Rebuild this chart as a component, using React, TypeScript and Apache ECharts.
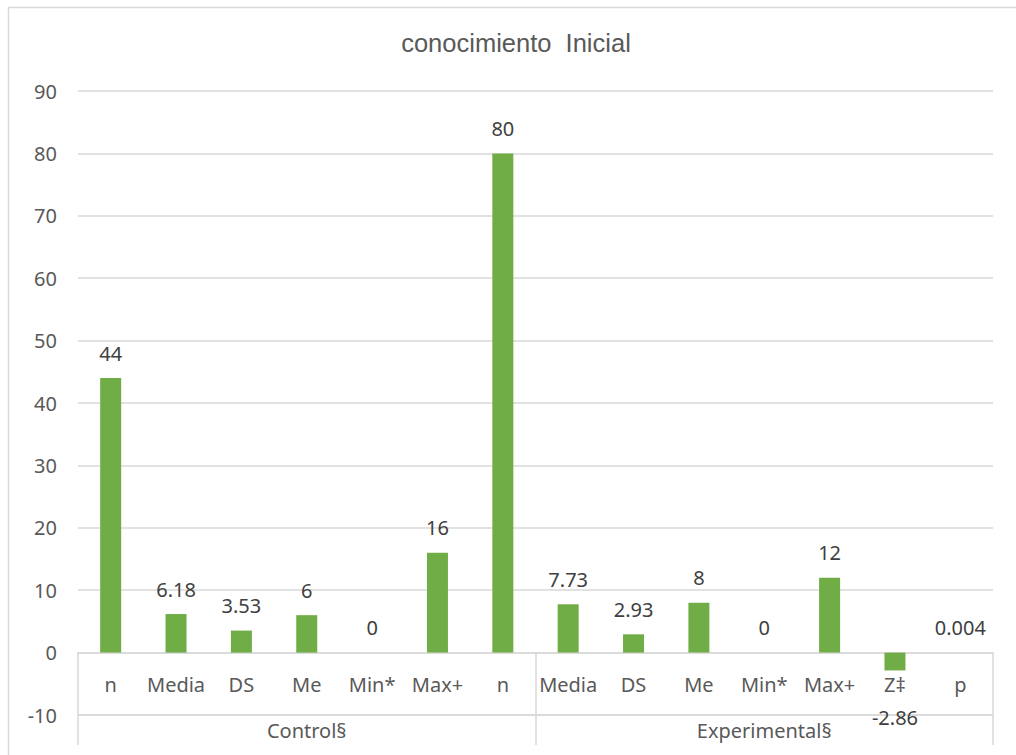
import React, { useEffect, useRef } from "react";
import * as echarts from "echarts";

const categories = ["n", "Media", "DS", "Me", "Min*", "Max+", "n", "Media", "DS", "Me", "Min*", "Max+", "Z‡", "p"];
const values = [44, 6.18, 3.53, 6, 0, 16, 80, 7.73, 2.93, 8, 0, 12, -2.86, 0.004];
const groups = ["Control§", "Experimental§"];
const yTicks = { min: -10, max: 90, interval: 10 };

const GREEN = "#70ad47";
const TEXT = "#595959";
const LINE = "#d9d9d9";
const FONT = "'Noto Sans', 'Open Sans', sans-serif";

// plot box, in pixels
const PLOT = { left: 78, right: 23, top: 91, bottom: 40 };
const PLOT_H = 755 - PLOT.top - PLOT.bottom;
const zeroY = PLOT.top + (PLOT_H * (yTicks.max - 0)) / (yTicks.max - yTicks.min);

export default function App() {
  const ref = useRef<HTMLDivElement>(null);

  useEffect(() => {
    if (!ref.current) return;
    const chart = echarts.init(ref.current, null, { renderer: "svg" });

    const barData = values.map((v) =>
      v < 0 ? { value: v, label: { position: "bottom", distance: 37 } } : { value: v }
    );

    chart.setOption({
      animation: false,
      backgroundColor: "#ffffff",
      title: {
        text: "conocimiento  Inicial",
        left: 516,
        top: 30,
        padding: 0,
        textAlign: "center",
        textStyle: {
          fontFamily: "'Liberation Sans', Arial, sans-serif",
          fontSize: 25.5,
          fontWeight: "normal",
          color: TEXT,
        },
      },
      graphic: [
        {
          type: "rect",
          shape: { x: 8.5, y: 7.5, width: 1100, height: 900 },
          style: { fill: "none", stroke: LINE, lineWidth: 1.5 },
          silent: true,
        },
      ],
      grid: [
        { left: PLOT.left, right: PLOT.right, top: PLOT.top, bottom: PLOT.bottom },
        // band under the zero line: category names and group captions
        { left: PLOT.left, right: PLOT.right, top: zeroY, bottom: PLOT.bottom },
      ],
      xAxis: [
        {
          type: "category",
          gridIndex: 0,
          data: categories,
          axisLine: { show: false },
          axisTick: { show: false },
          axisLabel: { show: false },
        },
        {
          type: "category",
          gridIndex: 1,
          data: categories,
          position: "top",
          axisLine: { show: true, onZero: false, lineStyle: { color: LINE, width: 1.5 } },
          axisTick: { show: false },
          axisLabel: {
            inside: true,
            interval: 0,
            margin: 22,
            fontFamily: FONT,
            fontSize: 20,
            color: TEXT,
          },
        },
        {
          type: "category",
          gridIndex: 1,
          data: groups,
          position: "bottom",
          axisLine: { onZero: false, lineStyle: { color: LINE, width: 1.5 } },
          axisTick: { show: true, length: 30, lineStyle: { color: LINE, width: 1.5 } },
          splitLine: { show: true, lineStyle: { color: LINE, width: 1.5 } },
          axisLabel: {
            margin: 5,
            fontFamily: FONT,
            fontSize: 20,
            color: TEXT,
          },
        },
      ],
      yAxis: [
        {
          type: "value",
          gridIndex: 0,
          min: yTicks.min,
          max: yTicks.max,
          interval: yTicks.interval,
          axisLine: { show: false },
          axisTick: { show: false },
          splitLine: { lineStyle: { color: LINE, width: 1.5 } },
          axisLabel: {
            margin: 21,
            fontFamily: FONT,
            fontSize: 20,
            color: TEXT,
          },
        },
        {
          type: "value",
          gridIndex: 1,
          show: false,
          splitLine: { show: false },
        },
      ],
      series: [
        {
          type: "bar",
          xAxisIndex: 0,
          yAxisIndex: 0,
          data: barData,
          barWidth: 21,
          itemStyle: { color: GREEN },
          label: {
            show: true,
            position: "top",
            distance: 15,
            fontFamily: FONT,
            fontSize: 20,
            color: "#404040",
          },
        },
      ],
    });

    return () => chart.dispose();
  }, []);

  return (
    <div
      ref={ref}
      style={{ position: "fixed", left: 0, top: 0, width: 1016, height: 755 }}
    />
  );
}
